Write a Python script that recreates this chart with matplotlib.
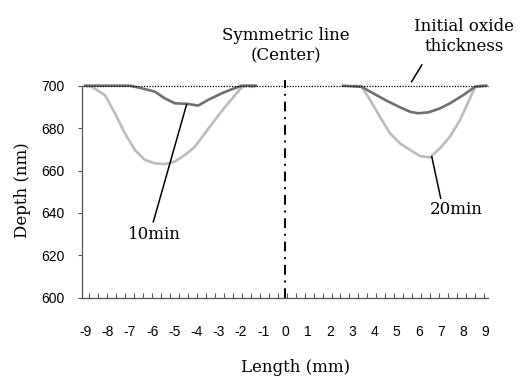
import numpy as np
import matplotlib.pyplot as plt

# depth profiles (nm) along the sample, left and right of the centre line
x10_left = [-9.03, -7.00, -6.48, -5.88, -5.43, -4.98, -4.38, -3.93, -3.48, -2.87, -2.42, -1.97, -1.33]
d10_left = [700, 700, 698.8, 697.2, 694.0, 691.7, 691.4, 690.6, 693.3, 696.4, 698.3, 700, 700]
x10_right = [2.58, 3.43, 3.95, 4.56, 5.16, 5.61, 5.98, 6.43, 6.96, 7.41, 8.01, 8.54, 9.06]
d10_right = [700, 699.5, 696.4, 692.9, 689.8, 687.7, 687.0, 687.4, 689.3, 691.7, 695.6, 699.5, 700]

x20_left = [-9.03, -8.73, -8.13, -7.68, -7.23, -6.78, -6.33, -5.88, -5.43, -4.98, -4.53, -4.08,
            -3.63, -3.18, -2.72, -2.27, -1.97, -1.69, -1.50, -1.33]
d20_left = [700, 699.5, 695.6, 687.0, 677.5, 669.7, 665.0, 663.4, 663.0, 664.2, 667.3, 671.2,
            677.5, 683.8, 690.0, 695.6, 699.2, 700, 699.4, 700]
x20_right = [3.13, 3.43, 3.81, 4.25, 4.71, 5.16, 5.61, 6.06, 6.51, 6.96, 7.41, 7.86, 8.31, 8.54, 8.78, 8.95]
d20_right = [700, 699.5, 693.3, 685.4, 677.5, 672.8, 669.7, 666.8, 666.2, 670.5, 676.0, 683.8, 694.0, 699.5, 700, 700]

xticks = list(range(-9, 10))
yticks = [600, 620, 640, 660, 680, 700]
initial_thickness = 700

fig = plt.figure(figsize=(5.25, 3.78), dpi=100)
ax = fig.add_axes([0.1571, 0.2124, 0.7724, 0.5609])

dark = '#707070'
light = '#bcbcbc'
ax.plot(x20_left, d20_left, color=light, lw=1.9, clip_on=False, solid_capstyle='round')
ax.plot(x20_right, d20_right, color=light, lw=1.9, clip_on=False, solid_capstyle='round')
ax.plot(x10_left, d10_left, color=dark, lw=1.9, clip_on=False, solid_capstyle='round')
ax.plot(x10_right, d10_right, color=dark, lw=1.9, clip_on=False, solid_capstyle='round')

# initial oxide level and symmetric line
ax.plot([-9.1, 9.1], [initial_thickness, initial_thickness], color='black', lw=0.9,
        ls=(0, (1, 1.2)), clip_on=False)
ax.plot([0, 0], [600, 702.8], color='black', lw=1.4, ls=(0, (5, 3, 1, 3)), clip_on=False)

ax.set_xlim(-9.14, 9.12)
ax.set_ylim(600, 700)
ax.set_xticks(xticks)
ax.set_xticklabels([str(v) for v in xticks], fontfamily='Liberation Sans', fontsize=10)
ax.set_xticks(np.linspace(-8.83, 8.94, 45), minor=True)
ax.set_yticks(yticks)
ax.set_yticklabels([str(v) for v in yticks], fontfamily='Liberation Sans', fontsize=10)
ax.tick_params(axis='x', which='major', length=0, pad=20)
ax.tick_params(axis='x', which='minor', direction='in', length=3.4, width=0.8, color='#555555')
ax.tick_params(axis='y', direction='out', length=3.2, width=0.8, color='#555555', pad=10)
for side in ['top', 'right']:
    ax.spines[side].set_visible(False)
for side in ['left', 'bottom']:
    ax.spines[side].set_color('#555555')
    ax.spines[side].set_linewidth(0.9)

serif = 'DejaVu Serif'
ax.text(0, 719.0, 'Symmetric line\n(Center)', ha='center', va='center', fontsize=12,
        family=serif, linespacing=1.25)
ax.text(8.04, 723.2, 'Initial oxide\nthickness', ha='center', va='center', fontsize=12,
        family=serif, linespacing=1.25, clip_on=False)
ax.plot([5.68, 6.14], [701.9, 709.8], color='black', lw=1.1, clip_on=False)

ax.text(-5.92, 629.8, '10min', ha='center', va='center', fontsize=12, family=serif)
ax.plot([-4.45, -5.95], [691.2, 635.8], color='black', lw=1.1)
ax.text(7.70, 641.4, '20min', ha='center', va='center', fontsize=12, family=serif)
ax.plot([6.59, 6.99], [666.5, 646.9], color='black', lw=1.1)

fig.text(0.042, 0.497, 'Depth (nm)', rotation=90, ha='center', va='center', fontsize=12, family=serif)
fig.text(296 / 525, 1 - 368 / 378, 'Length (mm)', ha='center', va='center', fontsize=12, family=serif)

fig.savefig('out.png', dpi=100)
